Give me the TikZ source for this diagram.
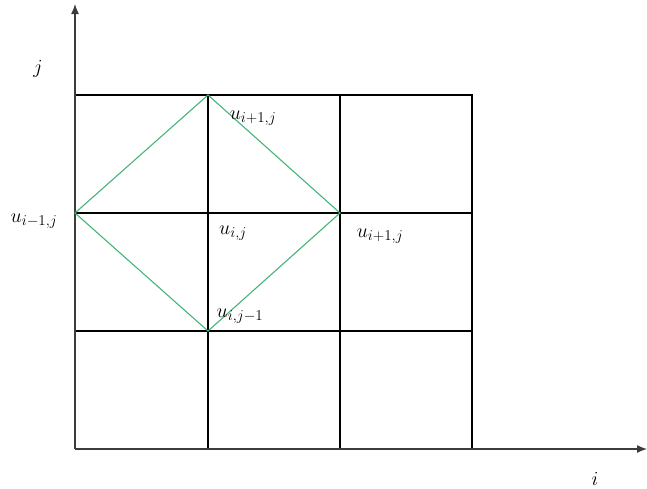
\RequirePackage{fix-cm}
\documentclass[tikz,border=0pt]{standalone}
\usetikzlibrary{arrows.meta}
\DeclareMathSizes{20}{20}{15}{12}
\definecolor{diag}{RGB}{70,180,120}
\definecolor{axis}{RGB}{60,60,60}
\begin{document}
\begin{tikzpicture}[x=1pt,y=-1pt,
  gridline/.style={draw=black,line width=1.2pt},
  axisline/.style={draw=axis,line width=1.3pt,-{Latex[length=10pt,width=8pt]}},
  diagline/.style={draw=diag,line width=1.1pt},
  lab/.style={font=\fontsize{20}{24}\selectfont,inner sep=0pt}]
\useasboundingbox (0,0) rectangle (647,488);
% grid coordinates
\foreach \c/\x in {0/75,1/208,2/340,3/472}{
  \foreach \r/\y in {0/95,1/213,2/331,3/449}{
    \coordinate (p\c\r) at (\x,\y);
  }
}
\coordinate (ytop) at (75,4);
\coordinate (xend) at (647,449);
% grid
\draw[gridline] (p00) -- (p30) -- (p33);
\draw[gridline] (p01) -- (p31);
\draw[gridline] (p02) -- (p32);
\draw[gridline] (p10) -- (p13);
\draw[gridline] (p20) -- (p23);
% axes
\draw[axisline] (p03) -- (ytop);
\draw[axisline] (p03) -- (xend);
% diamond
\draw[diagline] (p10) -- (p21) -- (p12) -- (p01) -- cycle;
% labels
\node[lab] (lj) at (38,69) {$j$};
\node[lab] (li) at (595,479) {$i$};
\node[lab] (l1) at (253,118) {$u_{i+1,j}$};
\node[lab] (l2) at (34,221) {$u_{i-1,j}$};
\node[lab] (l3) at (233,233) {$u_{i,j}$};
\node[lab] (l4) at (380,236) {$u_{i+1,j}$};
\node[lab] (l5) at (240,316) {$u_{i,j-1}$};
\end{tikzpicture}
\end{document}
